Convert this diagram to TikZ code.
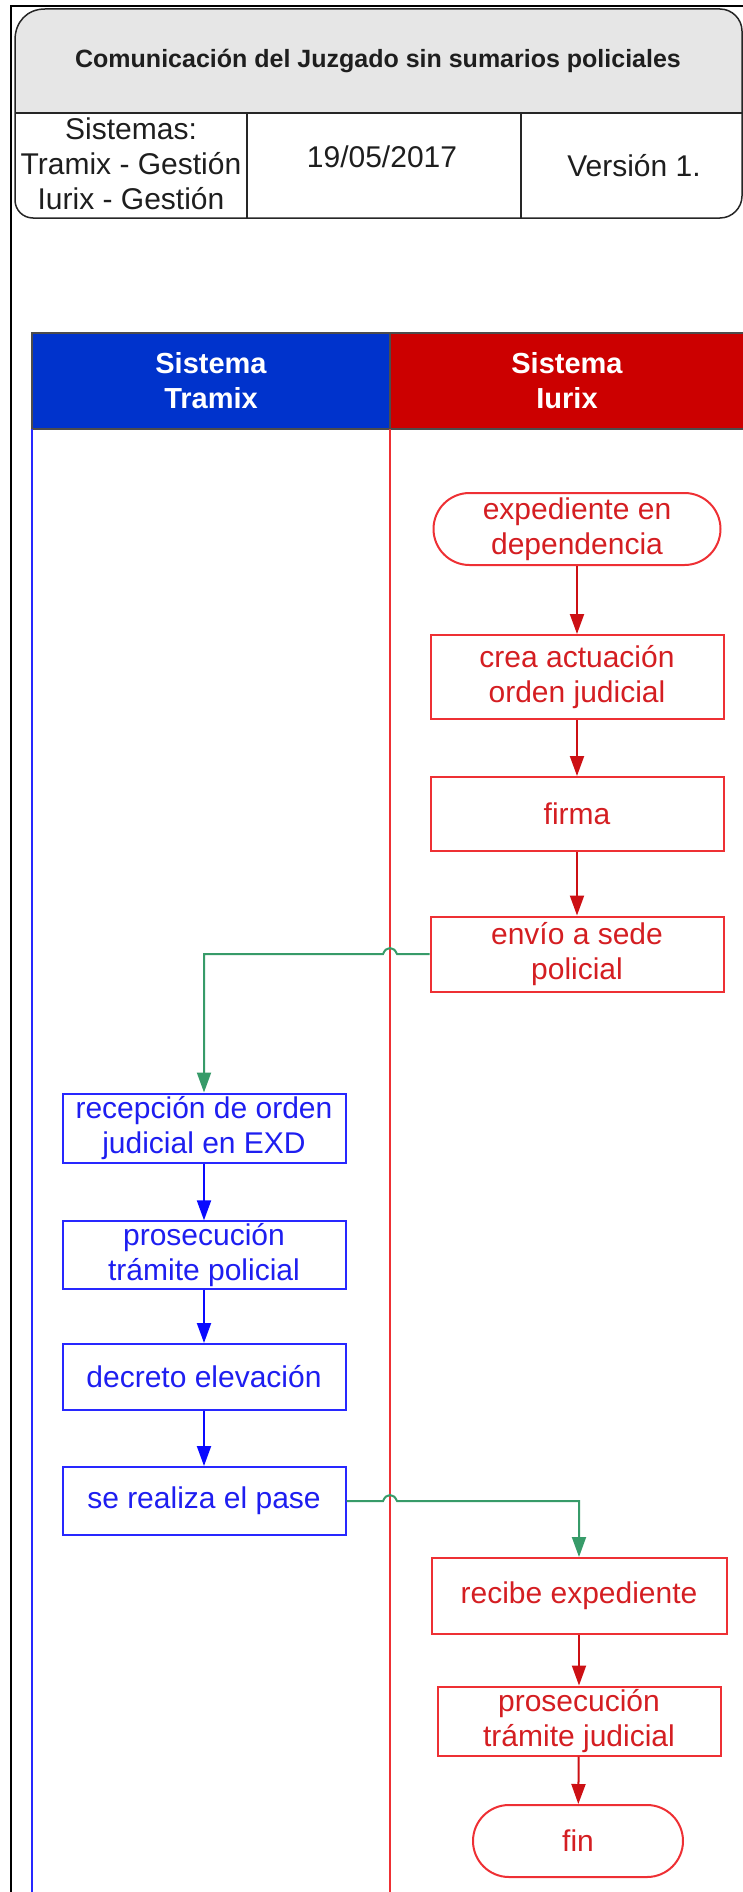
\documentclass[tikz,border=0pt]{standalone}
\usepackage{fontspec}
\setmainfont{Liberation Sans}
\usetikzlibrary{arrows.meta}
\definecolor{rbord}{RGB}{238,48,52}
\definecolor{rtext}{RGB}{212,30,34}
\definecolor{rarrow}{RGB}{204,16,20}
\definecolor{bbord}{RGB}{40,40,255}
\definecolor{btext}{RGB}{30,30,240}
\definecolor{barrow}{RGB}{10,10,255}
\definecolor{gline}{RGB}{55,155,105}
\definecolor{hgray}{RGB}{230,230,230}
\definecolor{laneblue}{RGB}{0,51,204}
\definecolor{lanered}{RGB}{204,0,0}
\definecolor{htext}{RGB}{30,30,30}
\begin{document}
\begin{tikzpicture}[x=1pt,y=-1pt,
  nodefont/.style={font=\fontsize{30}{35}\selectfont},
  rbox/.style={draw=rbord, text=rtext, line width=2pt, align=center, inner sep=2pt, nodefont},
  bbox/.style={draw=bbord, text=btext, line width=2pt, align=center, inner sep=2pt, nodefont},
  rarr/.style={draw=rarrow, line width=2pt, -{Triangle[length=20pt,width=14pt]}},
  barr/.style={draw=barrow, line width=2pt, -{Triangle[length=20pt,width=14pt]}},
  garr/.style={draw=gline, line width=2pt, -{Triangle[length=20pt,width=14pt]}},
  htxt/.style={text=htext, align=center, inner sep=0pt, font=\fontsize{30}{35}\selectfont},
  lanetxt/.style={text=white, align=center, inner sep=0pt, font=\bfseries\fontsize{29}{35}\selectfont}
]
\useasboundingbox (0,0) rectangle (743,1892);
% outer frame
\draw[line width=2.5pt, black] (11,1900) -- (11,6) -- (760,6);
% header box
\fill[hgray] (15,113) -- (15,40) .. controls (15,22) and (27,9) .. (45,9) -- (720,9) .. controls (732,9) and (742,19) .. (742,31) -- (742,113) -- cycle;
\draw[line width=1.5pt, black!85] (15,113) -- (15,40) .. controls (15,22) and (27,9) .. (45,9) -- (720,9) .. controls (732,9) and (742,19) .. (742,31) -- (742,196) .. controls (742,208) and (732,218) .. (720,218) -- (33,218) .. controls (23,218) and (15,210) .. (15,200) -- cycle;
\draw[line width=1.5pt, black!85] (15,113) -- (742,113);
\draw[line width=1.5pt, black!85] (247,113) -- (247,218);
\draw[line width=1.5pt, black!85] (521,113) -- (521,218);
\node[text=htext, inner sep=0pt, font=\bfseries\fontsize{25}{30}\selectfont] (title) at (378,61) {Comunicación del Juzgado sin sumarios policiales};
\node[htxt] (sist) at (131,164) {Sistemas:\\Tramix - Gestión\\Iurix - Gestión};
\node[htxt] (fecha) at (382,157) {19/05/2017};
\node[htxt] (vers) at (634,166) {Versión 1.};
% swimlanes
\fill[laneblue] (32,333) rectangle (390,429);
\fill[lanered] (390,333) rectangle (760,429);
\draw[line width=1.2pt, black!70] (32,429) -- (32,333) -- (760,333);
\draw[line width=1.2pt, black!70] (32,429) -- (760,429);
\draw[line width=1.2pt, black!70] (390,333) -- (390,429);
\node[lanetxt] (lt) at (211,381) {Sistema\\Tramix};
\node[lanetxt] (li) at (567,381) {Sistema\\Iurix};
\draw[line width=2pt, bbord] (32,429) -- (32,1900);
\draw[line width=2pt, rbord] (390,429) -- (390,1900);
\coordinate (lanediv) at (390,0);
% red nodes
\node[rbox, rounded corners=36pt, minimum width=287pt, minimum height=72pt] (exp) at (577,529) {expediente en\\dependencia};
\node[rbox, minimum width=293pt, minimum height=84pt] (crea) at (577,677) {crea actuación\\orden judicial};
\node[rbox, minimum width=293pt, minimum height=74pt] (firma) at (577,814) {firma};
\node[rbox, minimum width=293pt, minimum height=75pt] (envio) at (577,954) {envío a sede\\policial};
% blue nodes
\node[bbox, minimum width=283pt, minimum height=69pt] (recep) at (204,1128) {recepción de orden\\judicial en EXD};
\node[bbox, minimum width=283pt, minimum height=66pt] (prosp) at (204,1255) {prosecución\\trámite policial};
\node[bbox, minimum width=283pt, minimum height=66pt] (decr) at (204,1377) {decreto elevación};
\node[bbox, minimum width=283pt, minimum height=68pt] (pase) at (204,1501) {se realiza el pase};
% red lower nodes
\node[rbox, minimum width=295pt, minimum height=76pt] (recibe) at (579,1596) {recibe expediente};
\node[rbox, minimum width=283pt, minimum height=69pt] (prosj) at (579,1721) {prosecución\\trámite judicial};
\node[rbox, rounded corners=36pt, minimum width=210pt, minimum height=72pt] (fin) at (578,1841) {fin};
% red arrows
\draw[rarr] (exp) -- (crea);
\draw[rarr] (crea) -- (firma);
\draw[rarr] (firma) -- (envio);
\draw[rarr] (recibe) -- (prosj);
\draw[rarr] (prosj) -- (fin);
% blue arrows
\draw[barr] (recep) -- (prosp);
\draw[barr] (prosp) -- (decr);
\draw[barr] (decr) -- (pase);
% green connectors with line jumps
\coordinate (j1) at (envio.west -| lanediv);
\coordinate (j2) at (pase.east -| lanediv);
\draw[garr] (envio.west) -- ([xshift=7pt]j1) .. controls ([xshift=4pt,yshift=8pt]j1) and ([xshift=-4pt,yshift=8pt]j1) .. ([xshift=-7pt]j1) -- (recep.north |- envio.west) -- (recep.north);
\draw[garr] (pase.east) -- ([xshift=-7pt]j2) .. controls ([xshift=-4pt,yshift=8pt]j2) and ([xshift=4pt,yshift=8pt]j2) .. ([xshift=7pt]j2) -- (recibe.north |- pase.east) -- (recibe.north);
\end{tikzpicture}
\end{document}
